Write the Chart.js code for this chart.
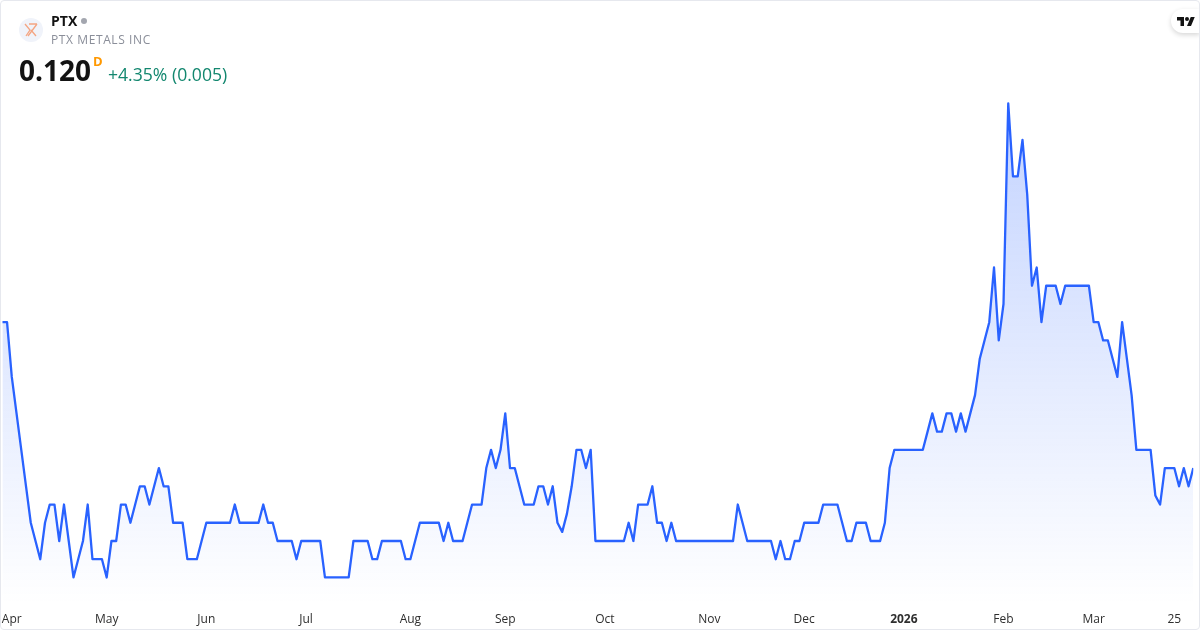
<!DOCTYPE html>
<html lang="en">
<head>
<meta charset="utf-8">
<title>PTX</title>
<script src="https://cdn.jsdelivr.net/npm/chart.js@4/dist/chart.umd.min.js"></script>
<style>
  html, body { margin: 0; padding: 0; background: #fff; }
  body { width: 1200px; height: 630px; overflow: hidden; position: relative; font-family: "Open Sans", sans-serif; }
  #wrap { position: absolute; left: 0; top: 0; width: 1200px; height: 630px; }
  #frame { position: absolute; left: 0; top: 0; width: 1198px; height: 628px; border: 1px solid #e6e8ee; border-radius: 4px; pointer-events: none; }
  .txt { position: absolute; white-space: nowrap; line-height: 1; }
  #symbol { left: 51px; top: 14px; font-size: 14px; font-weight: 700; color: #131313; }
  #dot { position: absolute; left: 81px; top: 18px; width: 6px; height: 6px; border-radius: 50%; background: #a3a6af; }
  #name { left: 51px; top: 34px; font-size: 12px; color: #8a8e99; letter-spacing: 0.6px; }
  #price { left: 19px; top: 56px; font-size: 28px; font-weight: 700; color: #131313; }
  #interval { left: 93px; top: 55px; font-size: 13px; font-weight: 700; color: #ff9800; }
  #change { left: 108px; top: 66px; font-size: 17.6px; color: #13876f; }
  #logo { position: absolute; left: 19px; top: 18px; }
  #tv { position: absolute; left: 1171px; top: 9px; width: 29px; height: 24px; background: #fff; border-radius: 12px 0 0 12px; box-shadow: 0 2px 5px rgba(0,0,0,0.16); }
  #tv svg { position: absolute; left: 6px; top: 6px; }
</style>
</head>
<body>
<div id="wrap"><canvas id="priceChart"></canvas></div>
<svg id="logo" width="24" height="24" viewBox="0 0 24 24">
  <circle cx="12" cy="12" r="12" fill="#f0f3fa"/>
  <path d="M6 6l5 6-4 6M18 6l-9 12M12 12l5 6M10 6h8" fill="none" stroke="#f4a582" stroke-width="1.3"/>
</svg>
<div class="txt" id="symbol">PTX</div>
<div id="dot"></div>
<div class="txt" id="name">PTX METALS INC</div>
<div class="txt" id="price">0.120</div>
<div class="txt" id="interval">D</div>
<div class="txt" id="change">+4.35% (0.005)</div>
<div id="tv">
  <svg width="18" height="14" viewBox="0 0 36 28"><path fill="#131313" d="M14 22H7V11H0V4h14v18zM28 22h-8l7.5-18h8L28 22z"/><circle fill="#131313" cx="20" cy="8" r="4"/></svg>
</div>
<div id="frame"></div>
<script>
// daily closes, one per trading day
const closes = [
  0.16, 0.16, 0.145, 0.135, 0.125, 0.115, 0.105, 0.1, 0.095, 0.105,
  0.11, 0.11, 0.1, 0.11, 0.1, 0.09, 0.095, 0.1, 0.11, 0.095,
  0.095, 0.095, 0.09, 0.1, 0.1, 0.11, 0.11, 0.105, 0.11, 0.115,
  0.115, 0.11, 0.115, 0.12, 0.115, 0.115, 0.105, 0.105, 0.105, 0.095,
  0.095, 0.095, 0.1, 0.105, 0.105, 0.105, 0.105, 0.105, 0.105, 0.11,
  0.105, 0.105, 0.105, 0.105, 0.105, 0.11, 0.105, 0.105, 0.1, 0.1,
  0.1, 0.1, 0.095, 0.1, 0.1, 0.1, 0.1, 0.1, 0.09, 0.09,
  0.09, 0.09, 0.09, 0.09, 0.1, 0.1, 0.1, 0.1, 0.095, 0.095,
  0.1, 0.1, 0.1, 0.1, 0.1, 0.095, 0.095, 0.1, 0.105, 0.105,
  0.105, 0.105, 0.105, 0.1, 0.105, 0.1, 0.1, 0.1, 0.105, 0.11,
  0.11, 0.11, 0.12, 0.125, 0.12, 0.125, 0.135, 0.12, 0.12, 0.115,
  0.11, 0.11, 0.11, 0.115, 0.115, 0.11, 0.115, 0.105, 0.1025, 0.1075,
  0.115, 0.125, 0.125, 0.12, 0.125, 0.1, 0.1, 0.1, 0.1, 0.1,
  0.1, 0.1, 0.105, 0.1, 0.11, 0.11, 0.11, 0.115, 0.105, 0.105,
  0.1, 0.105, 0.1, 0.1, 0.1, 0.1, 0.1, 0.1, 0.1, 0.1,
  0.1, 0.1, 0.1, 0.1, 0.1, 0.11, 0.105, 0.1, 0.1, 0.1,
  0.1, 0.1, 0.1, 0.095, 0.1, 0.095, 0.095, 0.1, 0.1, 0.105,
  0.105, 0.105, 0.105, 0.11, 0.11, 0.11, 0.11, 0.105, 0.1, 0.1,
  0.105, 0.105, 0.105, 0.1, 0.1, 0.1, 0.105, 0.12, 0.125, 0.125,
  0.125, 0.125, 0.125, 0.125, 0.125, 0.13, 0.135, 0.13, 0.13, 0.135,
  0.135, 0.13, 0.135, 0.13, 0.135, 0.14, 0.15, 0.155, 0.16, 0.175,
  0.155, 0.165, 0.22, 0.2, 0.2, 0.21, 0.195, 0.17, 0.175, 0.16,
  0.17, 0.17, 0.17, 0.165, 0.17, 0.17, 0.17, 0.17, 0.17, 0.17,
  0.16, 0.16, 0.155, 0.155, 0.15, 0.145, 0.16, 0.15, 0.14, 0.125,
  0.125, 0.125, 0.125, 0.1125, 0.11, 0.12, 0.12, 0.12, 0.115, 0.12,
  0.115, 0.12
];

// x axis labels and the bar each one sits under
const tickLabels = ["Apr", "May", "Jun", "Jul", "Aug", "Sep", "Oct", "Nov", "Dec", "2026", "Feb", "Mar", "25"];
const tickBars = [2, 22, 43, 64, 86, 106, 127, 149, 169, 190, 211, 230, 247];
const boldLabels = ["2026"];

const points = closes.map((c, i) => ({ x: i, y: c }));

function areaFill(context) {
  const { ctx, chartArea, scales } = context.chart;
  if (!chartArea) return "rgba(41, 98, 255, 0.1)";
  const g = ctx.createLinearGradient(0, scales.y.getPixelForValue(Math.max(...closes)), 0, chartArea.bottom);
  g.addColorStop(0, "rgba(41, 98, 255, 0.28)");
  g.addColorStop(1, "rgba(41, 98, 255, 0)");
  return g;
}

new Chart(document.getElementById("priceChart"), {
  type: "line",
  data: {
    datasets: [
      {
        data: points,
        borderColor: "#2962ff",
        borderWidth: 2.3,
        borderJoinStyle: "round",
        backgroundColor: areaFill,
        fill: "start",
        tension: 0,
        pointRadius: 0,
      },
    ],
  },
  options: {
    responsive: true,
    maintainAspectRatio: false,
    animation: false,
    layout: { padding: { left: 2.3, right: 6.7, top: 85.2, bottom: 0 } },
    plugins: { legend: { display: false }, tooltip: { enabled: false } },
    scales: {
      x: {
        type: "linear",
        min: 0,
        max: closes.length - 1,
        grid: { display: false },
        border: { display: false },
        afterBuildTicks: (scale) => {
          scale.ticks = tickBars.map((v) => ({ value: v }));
        },
        afterFit: (scale) => {
          scale.height = 25.2;
          // labels may hang past the plot edge, keep the line on the frame
          scale.paddingLeft = 0;
          scale.paddingRight = 0;
        },
        ticks: {
          autoSkip: false,
          maxRotation: 0,
          padding: 0,
          color: "#2e2e2e",
          font: (c) => ({
            family: '"Open Sans", sans-serif',
            size: 12,
            weight: c.tick && boldLabels.includes(tickLabels[tickBars.indexOf(c.tick.value)]) ? "bold" : "normal",
          }),
          callback: (value) => tickLabels[tickBars.indexOf(value)],
        },
      },
      y: {
        display: false,
        min: 0.0825,
        max: 0.225,
      },
    },
  },
});
</script>
</body>
</html>
